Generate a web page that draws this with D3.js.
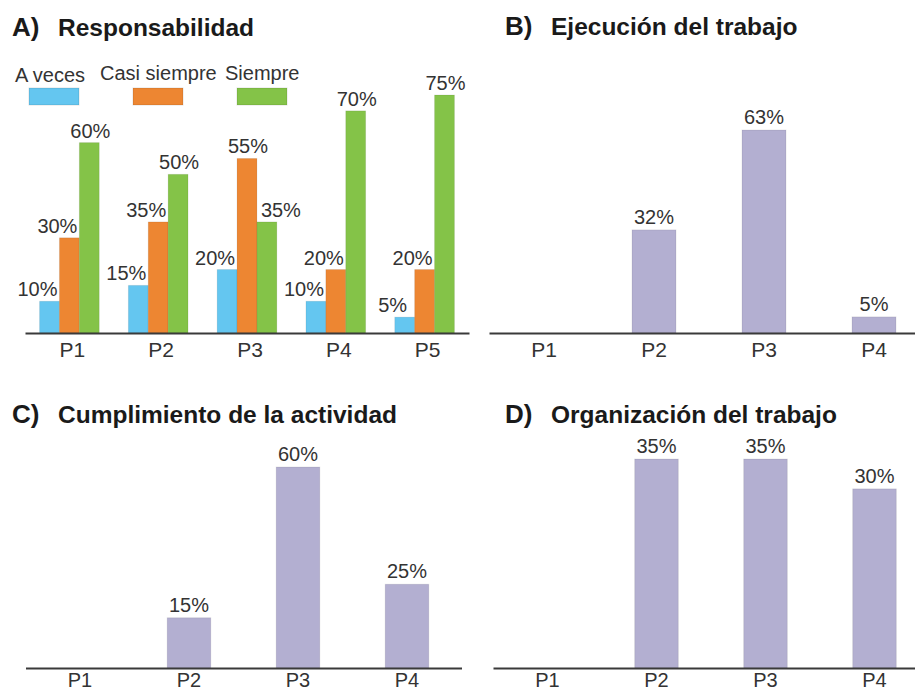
<!DOCTYPE html>
<html>
<head>
<meta charset="utf-8">
<script src="https://cdn.jsdelivr.net/npm/d3@7/dist/d3.min.js"></script>
<style>
  body { margin: 0; background: #fff; }
  svg { display: block; font-family: "Liberation Sans", Arial, sans-serif; }
</style>
</head>
<body>
<svg id="chart" width="915" height="692"></svg>
<script>
// ---------- DATA ----------
const catsA = ["P1", "P2", "P3", "P4", "P5"];
const seriesA = ["A veces", "Casi siempre", "Siempre"];
const aVeces = [10, 15, 20, 10, 5];
const casiSiempre = [30, 35, 55, 20, 20];
const siempre = [60, 50, 35, 70, 75];

const catsOther = ["P1", "P2", "P3", "P4"];
const ejecucion = [0, 32, 63, 5];
const cumplimiento = [0, 15, 60, 25];
const organizacion = [0, 35, 35, 30];

const titles = [
  { letter: "A)", text: "Responsabilidad" },
  { letter: "B)", text: "Ejecución del trabajo" },
  { letter: "C)", text: "Cumplimiento de la actividad" },
  { letter: "D)", text: "Organización del trabajo" }
];

// ---------- STYLE ----------
const colorsA = ["#64c6f0", "#ed8632", "#84c348"];
const purple = "#b3afd1";
const textCol = "#333";
const axisCol = "#3a3a3a";

const svg = d3.select("#chart");

function title(t, x, y) {
  const g = svg.append("g").attr("transform", `translate(${x},${y})`);
  g.append("text").attr("x", 0).attr("y", 0)
    .attr("font-size", 26).attr("font-weight", "bold").attr("fill", "#1a1a1a")
    .text(t.letter);
  g.append("text").attr("x", 46).attr("y", 0)
    .attr("font-size", 24.5).attr("font-weight", "bold").attr("fill", "#1a1a1a")
    .text(t.text);
}

function drawAxis(x, yBase, labelDx, pad, fs) {
  const ax = svg.append("g")
    .attr("transform", `translate(0,${yBase})`)
    .call(d3.axisBottom(x).tickSize(0).tickSizeOuter(0).tickPadding(pad));
  ax.select(".domain").attr("stroke", axisCol).attr("stroke-width", 2);
  ax.selectAll(".tick text")
    .attr("font-size", fs).attr("fill", textCol)
    .attr("font-family", "'Liberation Sans', Arial, sans-serif")
    .attr("dx", labelDx || 0);
}

// ---------- PANEL A ----------
title(titles[0], 12, 36);
{
  const base = 333;
  const x0 = d3.scaleBand().domain(catsA).range([25, 469]).paddingInner(0.328).paddingOuter(0.164);
  const x1 = d3.scaleBand().domain(seriesA).range([0, x0.bandwidth()]);
  const y = d3.scaleLinear().domain([0, 75]).range([base, base - 238]);
  const series = [aVeces, casiSiempre, siempre];

  catsA.forEach((c, i) => {
    const vals = series.map(s => s[i]);
    seriesA.forEach((s, j) => {
      const v = vals[j];
      const bx = x0(c) + x1(s);
      svg.append("rect")
        .attr("x", bx).attr("y", y(v))
        .attr("width", x1.bandwidth()).attr("height", base - y(v))
        .attr("fill", colorsA[j])
        .attr("stroke", "rgba(0,0,0,0.08)").attr("stroke-width", 1);
      let dx = 1;
      if (j < 2 && vals[j + 1] > v) dx = -12;
      else if (j > 0 && vals[j - 1] > v) dx = 14;
      svg.append("text")
        .attr("x", bx + x1.bandwidth() / 2 + dx).attr("y", y(v) - 5)
        .attr("text-anchor", "middle").attr("font-size", 20).attr("fill", textCol)
        .text(v + "%");
    });
  });
  drawAxis(x0, base, 3, 9, 21);
  // legend
  const leg = [
    { tx: 15, ty: 82, sx: 29 },
    { tx: 100, ty: 80, sx: 133 },
    { tx: 225, ty: 80, sx: 237 }
  ];
  seriesA.forEach((s, j) => {
    svg.append("text").attr("x", leg[j].tx).attr("y", leg[j].ty)
      .attr("font-size", 20).attr("fill", textCol).text(s);
    svg.append("rect").attr("x", leg[j].sx).attr("y", 88)
      .attr("width", 50).attr("height", 17)
      .attr("fill", colorsA[j]).attr("stroke", "rgba(0,0,0,0.12)").attr("stroke-width", 1);
  });
}

// ---------- PANELS B, C, D ----------
function singlePanel(vals, range, base, top, maxV, pad, fs) {
  const x = d3.scaleBand().domain(catsOther).range(range).paddingInner(0.6).paddingOuter(0.3);
  const y = d3.scaleLinear().domain([0, maxV]).range([base, top]);
  catsOther.forEach((c, i) => {
    const v = vals[i];
    if (!v) return;
    svg.append("rect")
      .attr("x", x(c)).attr("y", y(v))
      .attr("width", x.bandwidth()).attr("height", base - y(v))
      .attr("fill", purple)
      .attr("stroke", "rgba(0,0,0,0.08)").attr("stroke-width", 1);
    svg.append("text")
      .attr("x", x(c) + x.bandwidth() / 2).attr("y", y(v) - 6)
      .attr("text-anchor", "middle").attr("font-size", 20).attr("fill", textCol)
      .text(v + "%");
  });
  drawAxis(x, base, 0, pad, fs);
}

title(titles[1], 505, 35);
singlePanel(ejecucion, [489, 929], 333, 130, 63, 9, 21);

title(titles[2], 12, 423);
singlePanel(cumplimiento, [25.5, 461.5], 668, 467, 60, 5, 20);

title(titles[3], 505, 423);
singlePanel(organizacion, [493, 929], 668, 459, 35, 5, 20);
</script>
</body>
</html>
